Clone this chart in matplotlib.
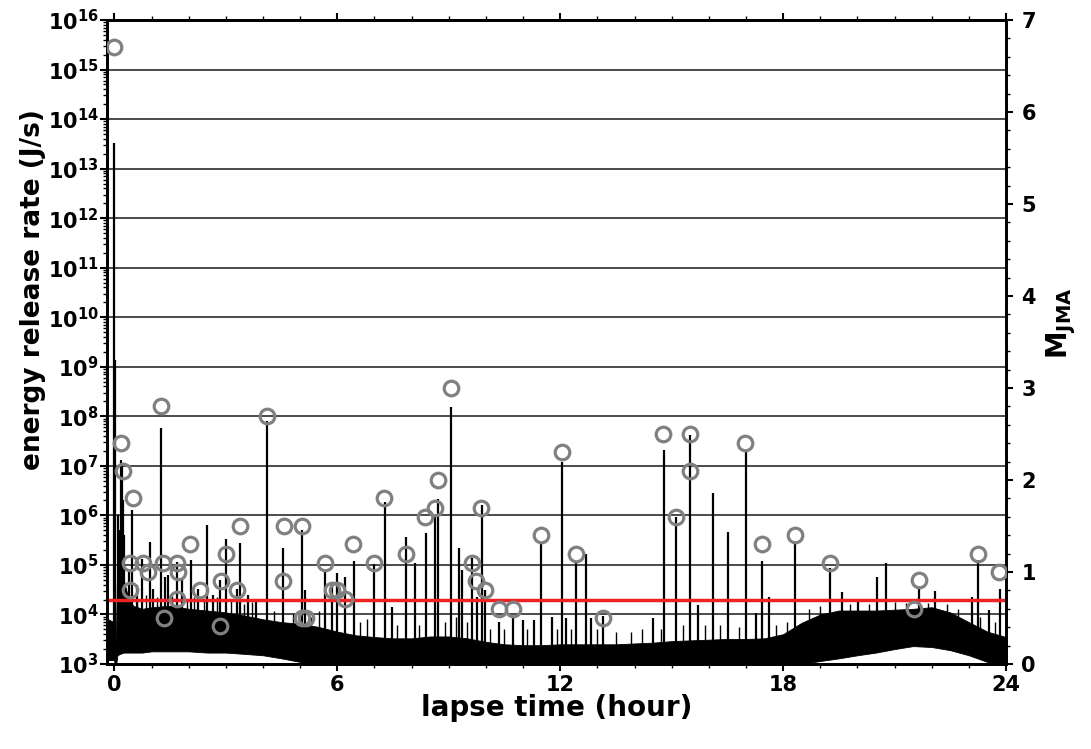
import math
import matplotlib
matplotlib.use('Agg')
import matplotlib.pyplot as plt
from matplotlib.ticker import FixedLocator, MultipleLocator, LogLocator, FuncFormatter, NullFormatter

# ---- earthquakes: lapse time (hour) and magnitude M_JMA (right axis) ----
eq_time = [0.00, 0.19, 0.24, 0.49, 0.41, 0.43, 0.77, 0.90, 1.26, 1.31, 1.33, 1.69, 1.71, 1.69,
           2.03, 2.30, 2.86, 2.84, 3.01, 3.29, 3.38, 4.12, 4.57, 4.55, 5.04, 5.04, 5.16, 5.68,
           5.86, 5.98, 6.22, 6.43, 7.00, 7.26, 7.84, 8.36, 8.62, 8.70, 9.06, 9.62, 9.73, 9.88,
           9.97, 10.35, 10.73, 11.47, 12.04, 12.42, 13.14, 14.77, 15.11, 15.49, 15.49, 16.98,
           17.43, 18.31, 19.26, 21.53, 21.65, 23.24, 23.82]
eq_mag = [6.71, 2.40, 2.10, 1.80, 1.10, 0.80, 1.10, 1.00, 2.80, 1.10, 0.50, 1.10, 1.00, 0.71,
          1.30, 0.80, 0.90, 0.41, 1.20, 0.80, 1.50, 2.70, 1.50, 0.90, 1.50, 0.50, 0.50, 1.10,
          0.80, 0.80, 0.71, 1.30, 1.10, 1.80, 1.20, 1.60, 1.70, 2.00, 3.00, 1.10, 0.90, 1.70,
          0.80, 0.60, 0.60, 1.40, 2.30, 1.20, 0.50, 2.50, 1.60, 2.50, 2.10, 2.40,
          1.30, 1.40, 1.10, 0.60, 0.91, 1.20, 1.00]

# ---- spikes of the energy release rate (hour, J/s) ----
spike_time = [0.00, 0.02, 0.10, 0.13, 0.17, 0.20, 0.23, 0.27, 0.40, 0.48, 0.62, 0.73, 0.97,
              1.05, 1.26, 1.37, 1.45, 1.69, 1.82, 2.05, 2.25, 2.48, 2.65, 2.85, 2.99, 3.29,
              3.39, 3.60, 3.80, 4.12, 4.55, 5.04, 5.14, 5.68, 5.85, 5.98, 6.20, 6.44, 7.00,
              7.27, 7.46, 7.84, 8.08, 8.38, 8.62, 8.70, 9.05, 9.27, 9.35, 9.62, 9.75, 9.89,
              9.97, 10.34, 10.72, 10.99, 11.29, 11.48, 11.77, 12.04, 12.15, 12.42, 12.69,
              12.82, 13.14, 14.49, 14.79, 15.11, 15.49, 15.70, 16.11, 16.51, 16.99, 17.27,
              17.43, 17.62, 18.32, 19.26, 19.58, 20.01, 20.53, 20.77, 21.66, 22.09, 23.08,
              23.25, 23.54, 23.84]
spike_peak = [3.3e13, 1.4e9, 1.0e6, 5.0e5, 1.3e7, 1.0e7, 2.0e6, 4.0e5, 8.0e4, 1.3e6, 4.0e4,
              1.3e5, 2.9e5, 3.2e4, 5.9e7, 5.8e4, 6.3e4, 1.15e5, 5.0e4, 1.25e5, 3.2e4, 6.3e5,
              2.5e4, 5.0e4, 3.3e5, 3.2e4, 2.8e5, 2.5e4, 2.0e4, 8.0e7, 2.2e5, 5.0e5, 3.1e4,
              8.0e4, 4.3e4, 6.9e4, 5.8e4, 1.2e5, 1.05e5, 1.9e6, 1.4e4, 3.7e5, 1.1e5, 4.4e5,
              9.3e5, 2.1e6, 1.55e8, 2.2e5, 8.0e4, 1.4e5, 2.3e4, 1.6e6, 3.1e4, 7.1e3, 8.9e3,
              7.9e3, 7.9e3, 2.9e5, 8.9e3, 1.2e7, 8.5e3, 1.15e5, 1.7e5, 8.5e3, 9.5e3, 8.5e3,
              2.1e7, 9.3e5, 4.2e7, 1.55e4, 2.8e6, 4.7e5, 2.1e7, 1.07e4, 1.2e5, 2.3e4, 2.75e5,
              8.7e4, 2.8e4, 1.9e4, 5.8e4, 1.1e5, 3.5e4, 3.0e4, 2.3e4, 1.26e5, 1.23e4, 3.2e4]

# ---- small spikes just above the background (hour, J/s) ----
grass_time = [0.60, 0.85, 1.15, 1.55, 1.95, 2.15, 2.40, 2.75, 3.15, 3.50, 3.70, 4.30, 4.80,
              5.30, 5.50, 6.60, 6.80, 7.60, 8.20, 8.90, 9.20, 9.50, 10.10, 10.50, 11.10,
              11.90, 12.30, 13.00, 13.50, 13.90, 14.20, 14.70, 15.30, 15.90, 16.30, 16.80,
              17.80, 18.10, 18.70, 19.00, 19.80, 20.30, 21.00, 21.30, 21.90, 22.40, 22.70,
              23.30, 23.70]
grass_peak = [2.0e4, 2.5e4, 2.2e4, 2.4e4, 2.0e4, 2.2e4, 1.9e4, 2.2e4, 2.0e4, 1.6e4, 1.8e4,
              1.2e4, 1.0e4, 9.0e3, 1.2e4, 7.0e3, 8.0e3, 6.0e3, 6.0e3, 7.0e3, 9.0e3, 7.0e3,
              5.0e3, 5.0e3, 5.0e3, 5.0e3, 5.0e3, 5.0e3, 4.5e3, 4.5e3, 5.0e3, 5.0e3, 6.0e3,
              6.0e3, 6.0e3, 5.5e3, 6.0e3, 7.0e3, 1.3e4, 1.5e4, 1.6e4, 1.6e4, 1.8e4, 1.7e4,
              1.7e4, 1.6e4, 1.3e4, 9.0e3, 7.0e3]

# ---- background (dense noise band) envelope: hour, lower and upper J/s ----
band_time = [-0.17, -0.02, 0.04, 0.08, 0.15, 0.25, 0.35, 0.5, 0.75, 1.0, 1.5, 2.0, 2.5, 3.0,
             3.5, 4.0, 4.5, 5.0, 5.5, 6.0, 6.5, 7.0, 7.5, 8.0, 8.5, 9.0, 9.5, 10.0, 10.5, 11.0,
             11.5, 12.0, 12.5, 13.0, 13.5, 14.0, 14.5, 15.0, 15.5, 16.0, 16.5, 17.0, 17.5,
             18.0, 18.5, 19.0, 19.5, 20.0, 20.5, 21.0, 21.5, 22.0, 22.5, 23.0, 23.5, 24.0]
band_low = [1.2e3, 1.2e3, 9e2, 1.5e3, 1.6e3, 1.7e3, 1.7e3, 1.7e3, 1.7e3, 1.8e3, 1.8e3, 1.8e3,
            1.7e3, 1.7e3, 1.6e3, 1.5e3, 1.3e3, 1.1e3, 9e2, 9e2, 9e2, 9e2, 9e2, 9e2, 9e2, 9e2,
            9e2, 9e2, 9e2, 9e2, 9e2, 9e2, 9e2, 9e2, 9e2, 9e2, 9e2, 9e2, 9e2, 9e2, 9e2, 9e2,
            9e2, 9e2, 1.0e3, 1.15e3, 1.3e3, 1.5e3, 1.7e3, 2.0e3, 2.3e3, 2.2e3, 1.9e3, 1.5e3,
            1.1e3, 9e2]
band_high = [8e3, 7e3, 3e3, 2.0e5, 1.5e5, 5e4, 2.5e4, 1.5e4, 1.3e4, 1.4e4, 1.5e4, 1.3e4,
             1.2e4, 1.1e4, 9.5e3, 8e3, 7e3, 6.5e3, 5.6e3, 4.5e3, 3.8e3, 3.5e3, 3.3e3, 3.3e3,
             3.6e3, 3.6e3, 3.3e3, 2.8e3, 2.5e3, 2.4e3, 2.4e3, 2.5e3, 2.5e3, 2.5e3, 2.5e3, 2.6e3,
             2.7e3, 2.9e3, 3.0e3, 3.1e3, 3.2e3, 3.2e3, 3.3e3, 4.0e3, 6.8e3, 1.0e4, 1.2e4,
             1.2e4, 1.2e4, 1.25e4, 1.3e4, 1.4e4, 1.1e4, 7.0e3, 4.5e3, 3.5e3]

threshold = 2e4

x_ticks = [0, 6, 12, 18, 24]
y_decades = list(range(3, 17))
m_ticks = list(range(0, 8))

# ---------------------------------------------------------------------
plt.rcParams['font.family'] = ['DejaVu Sans']
plt.rcParams['font.weight'] = 'bold'

fig = plt.figure(figsize=(10.91, 7.49), dpi=100)
ax = fig.add_axes([107 / 1091, 1 - 664 / 749, (1006 - 107) / 1091, (664 - 20) / 749])
ax.set_yscale('log')
ax.set_xlim(-0.2, 24)
ax.set_ylim(1e3, 1e16)

for d in y_decades[1:-1]:
    ax.axhline(10.0 ** d, color='#1a1a1a', lw=1.1, zorder=1)

spike_base = 2.35e3  # spikes rise out of the background band
ax.fill_between(band_time, band_low, band_high, color='black', lw=0.6, edgecolor='black', zorder=2)
ax.vlines(grass_time, spike_base, grass_peak, color='black', lw=1.0, zorder=2)
ax.vlines(spike_time, spike_base, spike_peak, color='black', lw=1.6, zorder=3)
ax.axhline(threshold, color='#ee2222', lw=2.5, zorder=4)

ax.xaxis.set_major_locator(FixedLocator(x_ticks))
ax.xaxis.set_minor_locator(MultipleLocator(1))
ax.set_xticklabels([str(v) for v in x_ticks])
ax.yaxis.set_major_locator(FixedLocator([10.0 ** d for d in y_decades]))
ax.yaxis.set_minor_locator(LogLocator(base=10, subs=range(2, 10), numticks=30))
ax.yaxis.set_minor_formatter(NullFormatter())
ax.yaxis.set_major_formatter(FuncFormatter(
    lambda v, p: r'$\mathbf{10^{%d}}$' % round(math.log10(v))))
ax.tick_params(axis='both', which='major', direction='out', length=5, width=1.5,
               labelsize=15, pad=1)
ax.tick_params(axis='both', which='minor', direction='out', length=3, width=1.0)
ax.tick_params(axis='x', which='both', top=True, pad=3)
ax.tick_params(axis='y', which='both', right=False)
for lab in ax.get_xticklabels():
    lab.set_fontweight('bold')
for s in ax.spines.values():
    s.set_linewidth(2.0)

ax2 = ax.twinx()
ax2.set_ylim(0, 7)
ax2.plot(eq_time, eq_mag, 'o', ms=10.5, mfc='none', mec='#808080', mew=2.3, zorder=5)
ax2.yaxis.set_major_locator(FixedLocator(m_ticks))
ax2.yaxis.set_minor_locator(MultipleLocator(0.2))
ax2.set_yticklabels([str(v) for v in m_ticks])
ax2.tick_params(axis='y', which='major', direction='out', length=5, width=1.5,
                labelsize=15, pad=6)
ax2.tick_params(axis='y', which='minor', direction='out', length=3, width=1.0)
for lab in ax2.get_yticklabels():
    lab.set_fontweight('bold')
for s in ax2.spines.values():
    s.set_linewidth(2.0)

fig.text(557 / 1091, 1 - 708 / 749, 'lapse time (hour)', ha='center', va='center',
         fontsize=20, fontweight='bold')
fig.text(33 / 1091, 1 - 290 / 749, 'energy release rate (J/s)', ha='center', va='center',
         rotation=90, fontsize=19, fontweight='bold')
fig.text(1061 / 1091, 1 - 323 / 749, r'$\mathbf{M_{JMA}}$', ha='center', va='center',
         rotation=90, fontsize=20)

fig.savefig('out.png', dpi=100)
